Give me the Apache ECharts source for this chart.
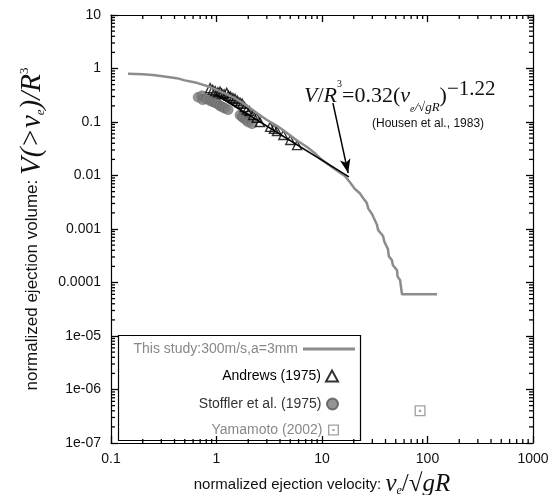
<!DOCTYPE html>
<html><head><meta charset="utf-8">
<script src="https://cdn.jsdelivr.net/npm/echarts@6/dist/echarts.min.js"></script>
<style>html,body{margin:0;padding:0;background:#fff}#c{width:551px;height:495px}</style>
</head><body><div id="c"></div>
<script>
// ---- data ----
const xTickVals = [0.1, 1, 10, 100, 1000];
const xTickLabels = ['0.1', '1', '10', '100', '1000'];
const yTickVals = [1e-7, 1e-6, 1e-5, 1e-4, 1e-3, 1e-2, 1e-1, 1, 10];
const yTickLabels = ['1e-07', '1e-06', '1e-05', '0.0001', '0.001', '0.01', '0.1', '1', '10'];
const minorMultipliers = [2, 3, 4, 5, 6, 7, 8, 9];
const xDecades = [0.1, 1, 10, 100];
const yDecades = [1e-7, 1e-6, 1e-5, 1e-4, 1e-3, 1e-2, 1e-1, 1];

const seriesNames = ['This study:300m/s,a=3mm', 'Andrews (1975)', 'Stoffler et al. (1975)', 'Yamamoto (2002)'];

const thisStudy = [[0.145,0.80],[0.2,0.78],[0.25,0.757],[0.32,0.71],[0.42,0.66],[0.5,0.6],[0.65,0.54],[0.87,0.45],[1.1,0.37],[1.43,0.293],[1.75,0.23],[2.08,0.183],[2.5,0.14],[3.01,0.109],[3.8,0.083],[4.66,0.062],[5.8,0.045],[7.21,0.034],[8.4,0.027],[9.57,0.021],[11.5,0.016],[13.5,0.0128],[16.5,0.0098],[18.4,0.0075],[20.5,0.0056],[22.7,0.0047],[24.5,0.0038],[26.5,0.0031],[27.5,0.0024],[29.8,0.0019],[31,0.0016],[33.2,0.0012],[34,0.00096],[37.9,0.00074],[39,0.00058],[42.2,0.00042],[43,0.00031],[46,0.00026],[47,0.00021],[51.4,0.00017],[52,0.00013],[55,0.00011],[56.5,0.00011],[57.3,0.00006],[123,0.00006]];

const andrews = [[0.87,0.43],[0.92,0.40],[0.97,0.38],[1.03,0.36],[1.08,0.37],[1.12,0.34],[1.18,0.33],[1.25,0.35],[1.3,0.31],[1.36,0.30],[1.43,0.28],[1.5,0.27],[1.58,0.25],[1.67,0.23],[1.75,0.22],[1.85,0.19],[1.94,0.17],[2.05,0.16],[2.22,0.135],[2.4,0.12],[2.58,0.10],[3.22,0.081],[3.5,0.075],[3.74,0.068],[4.3,0.057],[5.0,0.046],[5.8,0.037]];

const stoffler = [[0.67,0.29],[0.73,0.31],[0.74,0.26],[0.8,0.27],[0.87,0.25],[0.92,0.24],[0.97,0.23],[1.02,0.22],[1.08,0.2],[1.14,0.19],[1.2,0.18],[1.29,0.17],[1.67,0.135],[1.75,0.125],[1.79,0.12],[1.9,0.11],[1.99,0.1],[2.17,0.093]];

const yamamoto = [[85, 4e-7]];

// Housen et al. (1983) power law V/R^3 = 0.32 v^-1.22, drawn between its two end points
const housenLine = [[1.0, 0.32], [18, 0.0094]];
const arrowFrom = [12.7, 0.226];
const arrowTo = [17.7, 0.0111];

// ---- chart ----
const X_MIN = 0.1, X_MAX = 1000, Y_MIN = 1e-7, Y_MAX = 10;
const xMinor = [], yMinor = [];
xDecades.forEach(d => minorMultipliers.forEach(m => xMinor.push([d * m, 1])));
yDecades.forEach(d => minorMultipliers.forEach(m => yMinor.push([1, d * m])));

function fmt(vals, labels) {
  return function (v) {
    for (let i = 0; i < vals.length; i++) {
      if (Math.abs(Math.log10(v) - Math.log10(vals[i])) < 1e-6) return labels[i];
    }
    return '';
  };
}
const SANS = 'Liberation Sans, Arial, sans-serif';
const SERIF = 'Liberation Serif, Times New Roman, serif';
const MINOR = 4;
const TICK_COLOR = '#000';

function axisBase() {
  return {
    type: 'log',
    axisLine: { show: true, lineStyle: { color: '#000', width: 1.2 } },
    axisTick: { show: true, inside: true, length: 7, lineStyle: { color: TICK_COLOR, width: 1.3 } },
    splitLine: { show: false }
  };
}

const chart = echarts.init(document.getElementById('c'));
const legendText = { fontFamily: SANS, fontSize: 14 };
chart.setOption({
  animation: false,
  grid: { left: 111, right: 18, top: 15, bottom: 52, outerBoundsMode: 'none' },
  xAxis: [
    Object.assign(axisBase(), {
      min: X_MIN, max: X_MAX, splitNumber: 4,
      axisLabel: { formatter: fmt(xTickVals, xTickLabels), fontFamily: SANS, fontSize: 14, color: '#111', margin: 9 },
      name: '{a|normalized ejection velocity: }{b|v}{s|e}{c|/√}{b|gR}',
      nameLocation: 'middle', nameGap: 29,
      nameTextStyle: { rich: {
        a: { fontFamily: SANS, fontSize: 15, color: '#111' },
        b: { fontFamily: SERIF, fontStyle: 'italic', fontSize: 25, color: '#111' },
        c: { fontFamily: SERIF, fontSize: 25, color: '#111' },
        s: { fontFamily: SERIF, fontStyle: 'italic', fontSize: 12, color: '#111', verticalAlign: 'bottom' }
      } }
    }),
    Object.assign(axisBase(), {
      min: X_MIN, max: X_MAX, splitNumber: 4, position: 'top', axisLabel: { show: false }
    })
  ],
  yAxis: [
    Object.assign(axisBase(), {
      min: Y_MIN, max: Y_MAX, splitNumber: 8,
      axisLabel: { formatter: fmt(yTickVals, yTickLabels), fontFamily: SANS, fontSize: 14, color: '#111', margin: 10 },
      name: '{a|normalized ejection volume: }{b|V}{c|(>}{b|v}{s|e}{c|)/}{b|R}{p|3}',
      nameLocation: 'middle', nameGap: 62, nameRotate: 90,
      nameTextStyle: { rich: {
        a: { fontFamily: SANS, fontSize: 17, color: '#111' },
        b: { fontFamily: SERIF, fontStyle: 'italic', fontSize: 29, color: '#111' },
        c: { fontFamily: SERIF, fontStyle: 'italic', fontSize: 29, color: '#111' },
        s: { fontFamily: SERIF, fontStyle: 'italic', fontSize: 13, color: '#111', verticalAlign: 'bottom' },
        p: { fontFamily: SERIF, fontSize: 13, color: '#111', verticalAlign: 'top' }
      } }
    }),
    Object.assign(axisBase(), {
      min: Y_MIN, max: Y_MAX, splitNumber: 8, position: 'right', axisLabel: { show: false }
    })
  ],
  legend: [
    { data: [{ name: seriesNames[0], icon: 'rect', textStyle: { color: '#888' } }], right: 196, top: 342, align: 'right', padding: 0, itemWidth: 52, itemHeight: 3, textStyle: legendText, selectedMode: false },
    { data: [{ name: seriesNames[1], textStyle: { color: '#000' } }], right: 212, top: 369, align: 'right', padding: 0, itemWidth: 12, itemHeight: 11, textStyle: legendText, selectedMode: false },
    { data: [{ name: seriesNames[2], textStyle: { color: '#333' } }], right: 212, top: 397, align: 'right', padding: 0, itemWidth: 12, itemHeight: 11, textStyle: legendText, selectedMode: false },
    { data: [{ name: seriesNames[3], textStyle: { color: '#888' } }], right: 212, top: 423, align: 'right', padding: 0, itemWidth: 12, itemHeight: 11, textStyle: legendText, selectedMode: false }
  ],
  graphic: [
    { type: 'rect', shape: { x: 118.5, y: 335.5, width: 242, height: 105 }, style: { fill: 'none', stroke: '#000', lineWidth: 1.2 }, z: 100 },
    { type: 'text', left: 304, top: 79, z: 100, style: {
      text: '{b|V}{c|/}{b|R}{p|3}{c|=0.32(}{b|v}{s|e}{m|/√gR}{c|)}{q|−1.22}',
      rich: {
        b: { fontFamily: SERIF, fontStyle: 'italic', fontSize: 22, fill: '#111' },
        c: { fontFamily: SERIF, fontSize: 22, fill: '#111' },
        s: { fontFamily: SERIF, fontStyle: 'italic', fontSize: 10, fill: '#111', verticalAlign: 'bottom' },
        m: { fontFamily: SERIF, fontStyle: 'italic', fontSize: 13, fill: '#111', verticalAlign: 'bottom' },
        p: { fontFamily: SERIF, fontSize: 10, fill: '#111', verticalAlign: 'top' },
        q: { fontFamily: SERIF, fontSize: 21, fill: '#111', verticalAlign: 'top', padding: [0, 0, 14, 0] }
      } } },
    { type: 'text', left: 372, top: 118, z: 100, style: { text: '(Housen et al., 1983)', fontFamily: SANS, fontSize: 12, fill: '#111' } }
  ],
  series: [
    { name: seriesNames[0], type: 'line', data: thisStudy, showSymbol: false, symbol: 'none',
      lineStyle: { color: '#8c8c8c', width: 2.5 }, itemStyle: { color: '#8c8c8c' } },
    { name: seriesNames[2], type: 'scatter', data: stoffler, symbol: 'circle', symbolSize: 10,
      itemStyle: { color: '#7a7a7a', borderColor: '#555', borderWidth: 0.5 } },
    { name: 'Housen', type: 'line', data: housenLine, symbol: 'none', lineStyle: { color: '#000', width: 1.6 },
      markLine: { silent: true, symbol: ['none', 'arrow'], symbolSize: [8, 14], label: { show: false },
        lineStyle: { color: '#000', width: 1.5, type: 'solid' },
        data: [[{ coord: arrowFrom }, { coord: arrowTo }]] } },
    { name: seriesNames[1], type: 'scatter', data: andrews, symbol: 'triangle', symbolSize: 9,
      itemStyle: { color: 'rgba(255,255,255,0)', borderColor: '#000', borderWidth: 1.4 } },
    { name: seriesNames[3], type: 'scatter', data: yamamoto,
      symbol: 'path://M0,0H10V10H0Z M1.2,1.2V8.8H8.8V1.2Z M4,4H6V6H4Z', symbolSize: 11,
      itemStyle: { color: '#888' } },
    { name: 'xMinorTicks', type: 'custom', data: xMinor, clip: false,
      renderItem: function (params, api) {
        const b = api.coord([api.value(0), Y_MIN]);
        const t = api.coord([api.value(0), Y_MAX]);
        return { type: 'group', children: [
          { type: 'line', shape: { x1: b[0], y1: b[1], x2: b[0], y2: b[1] - MINOR }, style: { stroke: TICK_COLOR, lineWidth: 1.3 } },
          { type: 'line', shape: { x1: t[0], y1: t[1], x2: t[0], y2: t[1] + MINOR }, style: { stroke: TICK_COLOR, lineWidth: 1.3 } }
        ] };
      } },
    { name: 'yMinorTicks', type: 'custom', data: yMinor, clip: false,
      renderItem: function (params, api) {
        const l = api.coord([X_MIN, api.value(1)]);
        const r = api.coord([X_MAX, api.value(1)]);
        return { type: 'group', children: [
          { type: 'line', shape: { x1: l[0], y1: l[1], x2: l[0] + MINOR, y2: l[1] }, style: { stroke: TICK_COLOR, lineWidth: 1.3 } },
          { type: 'line', shape: { x1: r[0], y1: r[1], x2: r[0] - MINOR, y2: r[1] }, style: { stroke: TICK_COLOR, lineWidth: 1.3 } }
        ] };
      } }
  ]
});
</script></body></html>
